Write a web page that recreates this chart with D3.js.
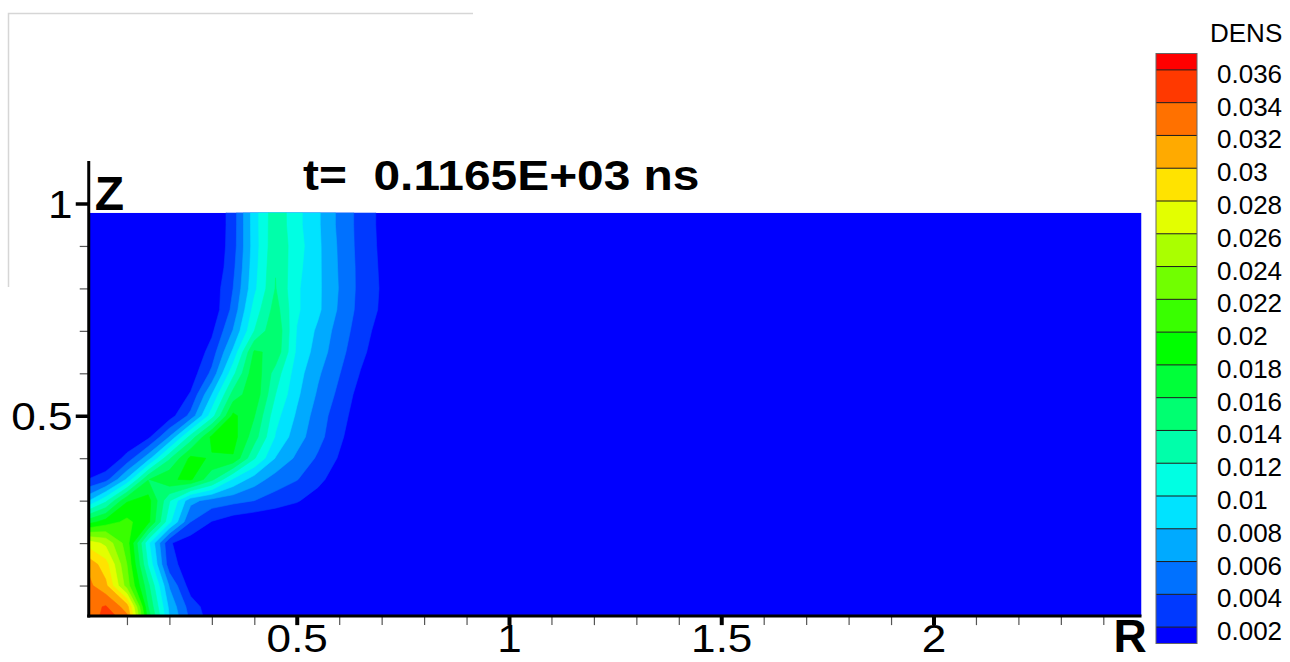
<!DOCTYPE html>
<html>
<head>
<meta charset="utf-8">
<script src="https://cdn.jsdelivr.net/npm/d3@7/dist/d3.min.js"></script>
<style>
  body { margin: 0; background: #fff; }
  svg { display: block; }
  text { font-family: "Liberation Sans", Arial, Helvetica, sans-serif; fill: #000; }
</style>
</head>
<body>
<script>
// ---- data ----
var titleText = "t=  0.1165E+03 ns";
var legendTitle = "DENS";
var levels = [0.002, 0.004, 0.006, 0.008, 0.010, 0.012, 0.014, 0.016, 0.018,
              0.020, 0.022, 0.024, 0.026, 0.028, 0.030, 0.032, 0.034, 0.036];
var levelLabels = ["0.002", "0.004", "0.006", "0.008", "0.01", "0.012", "0.014", "0.016", "0.018",
                   "0.02", "0.022", "0.024", "0.026", "0.028", "0.03", "0.032", "0.034", "0.036"];
var legendRange = [0.001, 0.037];
var colorStops = ["#0000ff", "#00ffff", "#00ff00", "#ffff00", "#ff0000"];

var rDomain = [0.01, 2.49];
var zDomain = [0.028, 0.978];
var rMajor = [0.5, 1, 1.5, 2];
var rMinor = [0.1, 0.2, 0.3, 0.4, 0.6, 0.7, 0.8, 0.9, 1.1, 1.2, 1.3, 1.4, 1.6, 1.7, 1.8, 1.9,
              2.1, 2.2, 2.3, 2.4];
var zMajor = [0.5, 1];
var zMinor = [0.1, 0.2, 0.3, 0.4, 0.6, 0.7, 0.8, 0.9];

// density samples on the mesh (rows: Z, columns: R); everything right of R=0.8 is below 0.002
var rNodes = [0, 0.05, 0.1, 0.15, 0.2, 0.25, 0.3, 0.35, 0.4, 0.45, 0.5, 0.55, 0.6, 0.65, 0.7, 0.75, 0.8];
var zNodes = [0, 0.05, 0.1, 0.15, 0.2, 0.25, 0.3, 0.35, 0.4, 0.45, 0.5,
              0.55, 0.6, 0.65, 0.7, 0.75, 0.8, 0.85, 0.9, 0.95, 1.0];
var dens = [
  [0.0325, 0.0352, 0.0340, 0.0185, 0.0085, 0.0040, 0.0013, 0.0003, 0, 0, 0, 0, 0, 0, 0, 0, 0],
  [0.0330, 0.0342, 0.0310, 0.0160, 0.0075, 0.0030, 0.0008, 0.0002, 0, 0, 0, 0, 0, 0, 0, 0, 0],
  [0.0330, 0.0305, 0.0230, 0.0145, 0.0058, 0.0010, 0.0003, 0, 0, 0, 0, 0, 0, 0, 0, 0, 0],
  [0.0320, 0.0288, 0.0220, 0.0118, 0.0028, 0.0008, 0.0002, 0, 0, 0, 0, 0, 0, 0, 0, 0, 0],
  [0.0275, 0.0255, 0.0210, 0.0105, 0.0022, 0.0008, 0.0002, 0, 0, 0, 0, 0, 0, 0, 0, 0, 0],
  [0.0166, 0.0190, 0.0205, 0.0186, 0.0105, 0.0040, 0.0019, 0.0008, 0.0003, 0, 0, 0, 0, 0, 0, 0, 0],
  [0.0070, 0.0115, 0.0178, 0.0188, 0.0122, 0.0066, 0.0052, 0.0046, 0.0040, 0.0031, 0.0022, 0.0010, 0.0003, 0, 0, 0, 0],
  [0.0018, 0.0032, 0.0083, 0.0159, 0.0178, 0.0183, 0.0145, 0.0097, 0.0070, 0.0051, 0.0041, 0.0026, 0.0008, 0.0002, 0, 0, 0],
  [0, 0, 0.0027, 0.0071, 0.0137, 0.0185, 0.0178, 0.0178, 0.0122, 0.0079, 0.0056, 0.0037, 0.0018, 0.0004, 0.0001, 0, 0],
  [0, 0, 0, 0.0015, 0.0061, 0.0128, 0.0185, 0.0188, 0.0149, 0.0098, 0.0069, 0.0047, 0.0024, 0.0005, 0.0002, 0.0001, 0],
  [0, 0, 0, 0, 0.0010, 0.0046, 0.0111, 0.0185, 0.0161, 0.0107, 0.0077, 0.0050, 0.0029, 0.0008, 0.0003, 0.0001, 0],
  [0, 0, 0, 0, 0, 0.0022, 0.0080, 0.0148, 0.0175, 0.0120, 0.0084, 0.0057, 0.0035, 0.0012, 0.0004, 0.0001, 0],
  [0, 0, 0, 0, 0, 0.0008, 0.0045, 0.0114, 0.0175, 0.0131, 0.0089, 0.0063, 0.0041, 0.0019, 0.0006, 0.0002, 0.0001],
  [0, 0, 0, 0, 0, 0, 0.0029, 0.0084, 0.0163, 0.0155, 0.0096, 0.0071, 0.0047, 0.0025, 0.0008, 0.0003, 0.0001],
  [0, 0, 0, 0, 0, 0, 0.0016, 0.0061, 0.0120, 0.0158, 0.0099, 0.0076, 0.0051, 0.0030, 0.0011, 0.0005, 0.0002],
  [0, 0, 0, 0, 0, 0, 0.0005, 0.0046, 0.0108, 0.0149, 0.0103, 0.0084, 0.0057, 0.0033, 0.0017, 0.0008, 0.0003],
  [0, 0, 0, 0, 0, 0, 0.0006, 0.0040, 0.0095, 0.0141, 0.0103, 0.0084, 0.0059, 0.0034, 0.0018, 0.0009, 0.0003],
  [0, 0, 0, 0, 0, 0, 0, 0.0035, 0.0092, 0.0139, 0.0106, 0.0084, 0.0058, 0.0034, 0.0017, 0.0008, 0.0003],
  [0, 0, 0, 0, 0, 0, 0, 0.0031, 0.0090, 0.0136, 0.0109, 0.0084, 0.0057, 0.0033, 0.0016, 0.0008, 0.0003],
  [0, 0, 0, 0, 0, 0, 0, 0.0030, 0.0091, 0.0135, 0.0106, 0.0083, 0.0055, 0.0033, 0.0015, 0.0008, 0.0003],
  [0, 0, 0, 0, 0, 0, 0, 0.0030, 0.0091, 0.0134, 0.0106, 0.0083, 0.0055, 0.0033, 0.0015, 0.0008, 0.0003]
];

// ---- setup ----
var w = 1290, h = 662;
var svg = d3.select("body").append("svg")
    .attr("width", w)
    .attr("height", h);

// same pixels per unit on both axes
var x = d3.scaleLinear().domain([0, 2.5]).range([84.5, 84.5 + 2.5 * 424.5]);
var y = d3.scaleLinear().domain([0, 1]).range([628, 628 - 424.5]);

// colour of a band is taken at its middle value
var bandColor = d3.scaleLinear()
    .domain(d3.range(colorStops.length).map(function(i) {
      return legendRange[0] + i * (legendRange[1] - legendRange[0]) / (colorStops.length - 1);
    }))
    .range(colorStops);
var bands = [legendRange[0] - 0.001].concat(levels).map(function(lo, i) {
  var a = i === 0 ? legendRange[0] : lo;
  var b = i === levels.length ? legendRange[1] : levels[i];
  return { lo: a, hi: b, color: bandColor(i === 0 ? legendRange[0] : (i === levels.length ? legendRange[1] : (a + b) / 2)) };
});

// light frame left over in the top-left corner
svg.append("path")
    .attr("d", "M8.5,287 V13.5 H473")
    .attr("fill", "none")
    .attr("stroke", "#d6d6d6")
    .attr("stroke-width", 1.5);

// ---- contour field ----
svg.append("clipPath").attr("id", "plot-clip")
  .append("rect")
    .attr("x", x(rDomain[0]))
    .attr("y", y(zDomain[1]))
    .attr("width", x(rDomain[1]) - x(rDomain[0]))
    .attr("height", y(zDomain[0]) - y(zDomain[1]));

var field = svg.append("g").attr("clip-path", "url(#plot-clip)");

field.append("rect")
    .attr("x", x(rDomain[0]))
    .attr("y", y(zDomain[1]))
    .attr("width", x(rDomain[1]) - x(rDomain[0]))
    .attr("height", y(zDomain[0]) - y(zDomain[1]))
    .attr("fill", bands[0].color);

var nx = rNodes.length, ny = zNodes.length;
var dr = rNodes[1] - rNodes[0], dz = zNodes[1] - zNodes[0];
var values = [];
dens.forEach(function(row) { row.forEach(function(v) { values.push(v); }); });

var contours = d3.contours().size([nx, ny]).thresholds(levels)(values);
var gridToScreen = d3.geoTransform({
  point: function(gx, gy) {
    this.stream.point(x(rNodes[0] + (gx - 0.5) * dr), y(zNodes[0] + (gy - 0.5) * dz));
  }
});
var path = d3.geoPath(gridToScreen);

field.selectAll("path.band")
  .data(contours)
  .join("path")
    .attr("class", "band")
    .attr("d", path)
    .attr("fill", function(d, i) { return bands[i + 1].color; })
    .attr("stroke", function(d, i) { return bands[i + 1].color; })
    .attr("stroke-width", 0.6);

// ---- axes ----
var x0 = x(rDomain[0]), y0 = y(zDomain[0]);

var xMinorAxis = svg.append("g")
    .attr("transform", "translate(0," + y0 + ")")
    .call(d3.axisBottom(x).tickValues(rMinor).tickSize(9).tickFormat(""));
xMinorAxis.select(".domain").remove();
xMinorAxis.selectAll("line").attr("stroke", "#555").attr("stroke-width", 1.2);

var xMajorAxis = svg.append("g")
    .attr("transform", "translate(0," + y0 + ")")
    .call(d3.axisBottom(x).tickValues(rMajor).tickSize(9).tickFormat(d3.format("")));
xMajorAxis.select(".domain").remove();
xMajorAxis.selectAll("line").attr("stroke", "#000").attr("stroke-width", 4);
xMajorAxis.selectAll("text")
    .attr("y", 36).attr("dy", null)
    .attr("transform", "scale(1.16,1)")
    .style("font-size", "38px");

var yMinorAxis = svg.append("g")
    .attr("transform", "translate(" + x0 + ",0)")
    .call(d3.axisLeft(y).tickValues(zMinor).tickSize(9).tickFormat(""));
yMinorAxis.select(".domain").remove();
yMinorAxis.selectAll("line").attr("stroke", "#555").attr("stroke-width", 1.2);

var yMajorAxis = svg.append("g")
    .attr("transform", "translate(" + x0 + ",0)")
    .call(d3.axisLeft(y).tickValues(zMajor).tickSize(13).tickFormat(d3.format("")));
yMajorAxis.select(".domain").remove();
yMajorAxis.selectAll("line").attr("stroke", "#000").attr("stroke-width", 3.5);
yMajorAxis.selectAll("text")
    .attr("x", -14).attr("dy", "0.36em")
    .attr("transform", "scale(1.16,1)")
    .style("font-size", "38px");

// axis lines
svg.append("line")
    .attr("x1", x0).attr("x2", x0)
    .attr("y1", y(1.1)).attr("y2", y0 + 1.5)
    .attr("stroke", "#000").attr("stroke-width", 3);
svg.append("line")
    .attr("x1", x0 - 1.5).attr("x2", x(rDomain[1]))
    .attr("y1", y0).attr("y2", y0)
    .attr("stroke", "#000").attr("stroke-width", 3);

svg.append("text")
    .attr("x", x0 + 6).attr("y", y(zDomain[1]) - 3)
    .style("font-size", "48px").style("font-weight", "bold")
    .text("Z");
svg.append("text")
    .attr("x", x(rDomain[1]) - 28).attr("y", 652)
    .style("font-size", "46px").style("font-weight", "bold")
    .text("R");

// title
svg.append("text")
    .attr("transform", "translate(303,190) scale(1.14,1)")
    .style("font-size", "42px").style("font-weight", "bold")
    .style("white-space", "pre")
    .text(titleText);

// ---- legend ----
var cbX = 1156, cbW = 41;
var yc = d3.scaleLinear().domain(legendRange).range([643.5, 53.5]);
var legend = svg.append("g");

legend.selectAll("rect.cb")
  .data(bands)
  .join("rect")
    .attr("class", "cb")
    .attr("x", cbX)
    .attr("y", function(d) { return yc(d.hi); })
    .attr("width", cbW)
    .attr("height", function(d) { return yc(d.lo) - yc(d.hi); })
    .attr("fill", function(d) { return d.color; });

legend.selectAll("line.cb")
  .data(levels)
  .join("line")
    .attr("class", "cb")
    .attr("x1", cbX).attr("x2", cbX + cbW)
    .attr("y1", function(d) { return yc(d); })
    .attr("y2", function(d) { return yc(d); })
    .attr("stroke", "#1a1a1a").attr("stroke-width", 1);

legend.append("rect")
    .attr("x", cbX).attr("y", yc(legendRange[1]))
    .attr("width", cbW).attr("height", yc(legendRange[0]) - yc(legendRange[1]))
    .attr("fill", "none").attr("stroke", "#666").attr("stroke-width", 1);

legend.selectAll("text.cb")
  .data(levels)
  .join("text")
    .attr("class", "cb")
    .attr("x", 1217)
    .attr("y", function(d) { return yc(d) + 13; })
    .style("font-size", "26px")
    .text(function(d, i) { return levelLabels[i]; });

legend.append("text")
    .attr("x", 1210).attr("y", 42)
    .style("font-size", "26px")
    .text(legendTitle);
</script>
</body>
</html>
